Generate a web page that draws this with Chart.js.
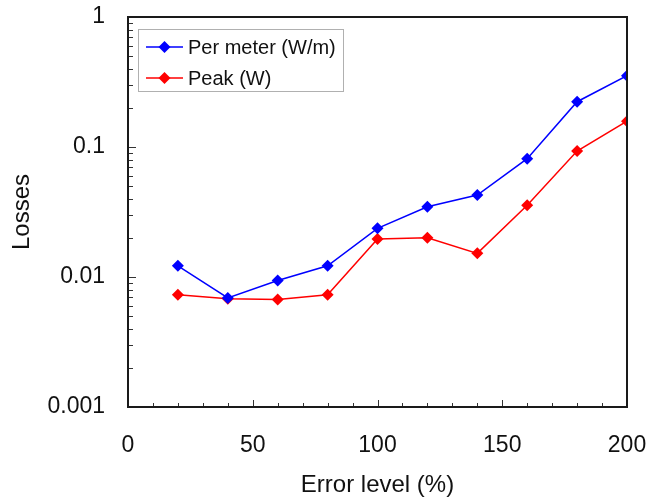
<!DOCTYPE html>
<html>
<head>
<meta charset="utf-8">
<script src="https://cdn.jsdelivr.net/npm/chart.js@4/dist/chart.umd.min.js"></script>
<style>
  html, body { margin: 0; padding: 0; background: #fff; }
  #wrap { width: 649px; height: 501px; }
</style>
</head>
<body>
<div id="wrap"><canvas id="lossChart"></canvas></div>
<script>
// error level (%)
const errorLevels = [20, 40, 60, 80, 100, 120, 140, 160, 180, 200];
// losses
const perMeter = [0.0122, 0.0069, 0.0094, 0.0122, 0.0237, 0.0347, 0.0427, 0.0813, 0.223, 0.354];
const peak = [0.0073, 0.0068, 0.0067, 0.0073, 0.0196, 0.0200, 0.0152, 0.0356, 0.0931, 0.158];
const seriesNames = ['Per meter (W/m)', 'Peak (W)'];
const seriesColors = ['#0000ff', '#ff0000'];
// axis ticks
const yDecades = [0.001, 0.01, 0.1, 1];
const xLabelled = [0, 50, 100, 150, 200];

const FONT = "'Liberation Sans', Arial, sans-serif";

function logTicks() {
  const out = [];
  for (let i = 0; i < yDecades.length; i++) {
    out.push(yDecades[i]);
    if (i < yDecades.length - 1) {
      for (let k = 2; k <= 9; k++) out.push(+(yDecades[i] * k).toPrecision(3));
    }
  }
  return out;
}

// inside tick marks + frame round the plot
const frameTicks = {
  id: 'frameTicks',
  afterDraw(chart) {
    const { ctx, chartArea: a, scales } = chart;
    ctx.save();
    ctx.strokeStyle = '#333';
    ctx.lineWidth = 1;
    scales.y.ticks.forEach(t => {
      const y = Math.round(scales.y.getPixelForValue(t.value)) + 0.5;
      const len = yDecades.includes(t.value) ? 8 : 5;
      ctx.beginPath();
      ctx.moveTo(a.left, y);
      ctx.lineTo(a.left + len, y);
      ctx.stroke();
    });
    scales.x.ticks.forEach(t => {
      const x = Math.round(scales.x.getPixelForValue(t.value)) + 0.5;
      const len = xLabelled.includes(t.value) ? 7 : 4;
      ctx.beginPath();
      ctx.moveTo(x, a.bottom);
      ctx.lineTo(x, a.bottom - len);
      ctx.stroke();
    });
    ctx.strokeStyle = '#1a1a1a';
    ctx.lineWidth = 2;
    ctx.strokeRect(a.left, a.top, a.right - a.left, a.bottom - a.top);
    ctx.restore();
  }
};

// legend box in the top left corner of the plot
const boxLegend = {
  id: 'boxLegend',
  afterDatasetsDraw(chart) {
    const { ctx, chartArea: a } = chart;
    const x0 = a.left + 10, y0 = a.top + 12, w = 205, h = 62;
    ctx.save();
    ctx.fillStyle = '#fff';
    ctx.fillRect(x0, y0, w, h);
    ctx.strokeStyle = '#b0b0b0';
    ctx.lineWidth = 1;
    ctx.strokeRect(x0 + 0.5, y0 + 0.5, w, h);
    chart.data.datasets.forEach((ds, i) => {
      const y = y0 + 18 + i * 31;
      ctx.strokeStyle = ds.borderColor;
      ctx.lineWidth = 1.5;
      ctx.beginPath();
      ctx.moveTo(x0 + 8, y);
      ctx.lineTo(x0 + 45, y);
      ctx.stroke();
      ctx.fillStyle = ds.borderColor;
      ctx.beginPath();
      ctx.moveTo(x0 + 26.5, y - 6);
      ctx.lineTo(x0 + 32.5, y);
      ctx.lineTo(x0 + 26.5, y + 6);
      ctx.lineTo(x0 + 20.5, y);
      ctx.closePath();
      ctx.fill();
      ctx.fillStyle = '#111';
      ctx.font = '20px ' + FONT;
      ctx.textBaseline = 'middle';
      ctx.fillText(ds.label, x0 + 50, y + 1);
    });
    ctx.restore();
  }
};

function makeSet(i, values) {
  return {
    label: seriesNames[i],
    data: errorLevels.map((x, j) => ({ x: x, y: values[j] })),
    borderColor: seriesColors[i],
    backgroundColor: seriesColors[i],
    borderWidth: 1.5,
    pointStyle: 'rectRot',
    pointRadius: 6,
    pointHoverRadius: 6,
    pointBorderWidth: 0,
    tension: 0
  };
}

window.addEventListener('DOMContentLoaded', () => {
  const ctx = document.getElementById('lossChart').getContext('2d');
  new Chart(ctx, {
    type: 'line',
    data: { datasets: [makeSet(0, perMeter), makeSet(1, peak)] },
    options: {
      responsive: true,
      maintainAspectRatio: false,
      animation: false,
      layout: { padding: { top: 17, right: 22, left: 0, bottom: 0 } },
      plugins: { legend: { display: false }, tooltip: { enabled: false } },
      scales: {
        x: {
          type: 'linear',
          min: 0,
          max: 200,
          ticks: {
            stepSize: 10,
            autoSkip: false,
            maxRotation: 0,
            padding: 25,
            color: '#111',
            font: { family: FONT, size: 23 },
            callback: v => xLabelled.includes(v) ? String(v) : ''
          },
          grid: { display: false, drawTicks: false },
          border: { display: false },
          title: {
            display: true,
            text: 'Error level (%)',
            color: '#111',
            font: { family: FONT, size: 24 },
            padding: { top: 0, bottom: 1 }
          },
          afterFit: s => { s.height = 94; s.paddingLeft = 0; s.paddingRight = 0; }
        },
        y: {
          type: 'logarithmic',
          min: 0.001,
          max: 1,
          afterBuildTicks: s => { s.ticks = logTicks().map(v => ({ value: v })); },
          ticks: {
            autoSkip: false,
            padding: 23,
            color: '#111',
            font: { family: FONT, size: 23 },
            callback: v => yDecades.includes(v) ? String(v) : ''
          },
          grid: { display: false, drawTicks: false },
          border: { display: false },
          title: {
            display: true,
            text: 'Losses',
            color: '#111',
            font: { family: FONT, size: 24 },
            padding: { top: 8, bottom: 0 }
          },
          afterFit: s => { s.width = 128; s.paddingTop = 0; s.paddingBottom = 0; }
        }
      }
    },
    plugins: [frameTicks, boxLegend]
  });
});
</script>
</body>
</html>
